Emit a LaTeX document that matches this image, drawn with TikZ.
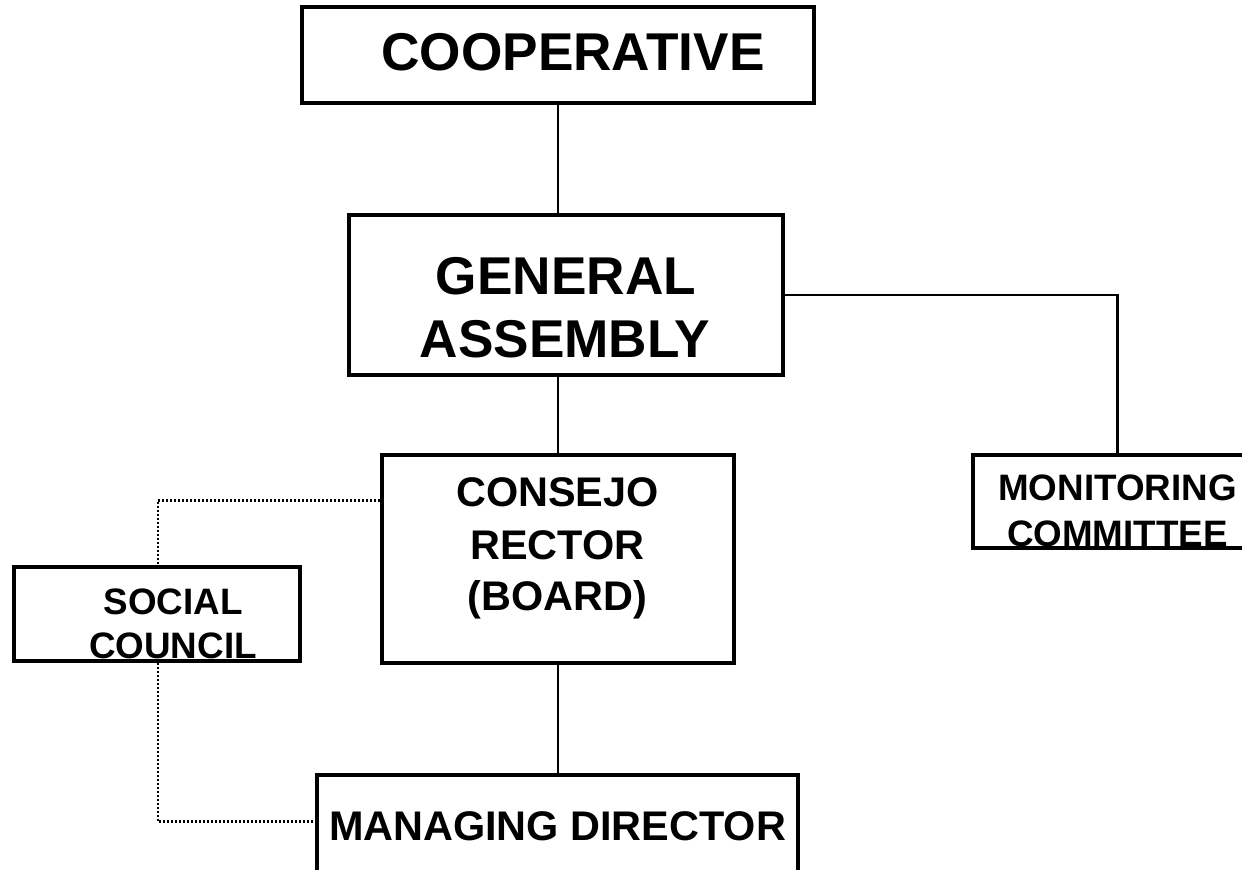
\documentclass[tikz,border=0pt]{standalone}
\usepackage{fontspec}
\setmainfont{Liberation Sans}
\usetikzlibrary{calc}
\begin{document}
\begin{tikzpicture}[x=0.5pt,y=-0.5pt,
  box/.style={draw,line width=1.6pt,inner sep=0pt,rectangle},
  conn/.style={line width=1.2pt},
  dotconn/.style={line width=1.3pt,dash pattern=on 1pt off 1pt},
  big/.style={font=\fontsize{26.6pt}{31pt}\selectfont\bfseries,anchor=base,inner sep=0pt},
  mid/.style={font=\fontsize{20.7pt}{25pt}\selectfont\bfseries,anchor=base,inner sep=0pt},
  small/.style={font=\fontsize{18.4pt}{22pt}\selectfont\bfseries,anchor=base,inner sep=0pt}]
\useasboundingbox[fill=white] (0,0) rectangle (1242,869);
% boxes
\node[box,minimum width=256pt,minimum height=48pt] (coop) at (558,55) {};
\node[box,minimum width=217pt,minimum height=80pt] (ga) at (566,295) {};
\node[box,minimum width=176pt,minimum height=104pt] (cr) at (558,559) {};
\node[box,minimum width=144.5pt,minimum height=46.5pt] (mon) at (1117.5,501.5) {};
\node[box,minimum width=143pt,minimum height=47pt] (soc) at (157,614) {};
\node[box,minimum width=240.5pt,minimum height=62.5pt] (md) at (557.5,837.5) {};
% texts
\node[big] (t1) at (573,70) {COOPERATIVE};
\node[big] (t2) at (566,294) {GENERAL};
\node[big] (t3) at (565,357) {ASSEMBLY};
\node[mid] (t4) at (557.5,506) {CONSEJO};
\node[mid] (t5) at (557.5,559) {RECTOR};
\node[mid] (t6) at (557.5,610) {(BOARD)};
\node[small] (t7) at (1117.5,500) {MONITORING};
\node[small] (t8) at (1117.5,546) {COMMITTEE};
\node[small] (t9) at (173,614) {SOCIAL};
\node[small] (t10) at (173,658) {COUNCIL};
\node[mid] (t11) at (557.5,840) {MANAGING DIRECTOR};
% connectors
\draw[conn] (coop.south) -- (coop.south |- ga.north);
\draw[conn] (ga.east) -| (mon.north);
\draw[conn] (cr.north |- ga.south) -- (cr.north);
\draw[conn] (cr.south) -- (cr.south |- md.north);
\coordinate (crL) at ($(cr.north west)+(0,47)$);
\coordinate (mdL) at ($(md.north west)+(0,48)$);
\draw[dotconn] (crL) -| ([xshift=0.5pt]soc.north);
\draw[dotconn] ([xshift=0.5pt]soc.south) |- (mdL);
\end{tikzpicture}
\end{document}
